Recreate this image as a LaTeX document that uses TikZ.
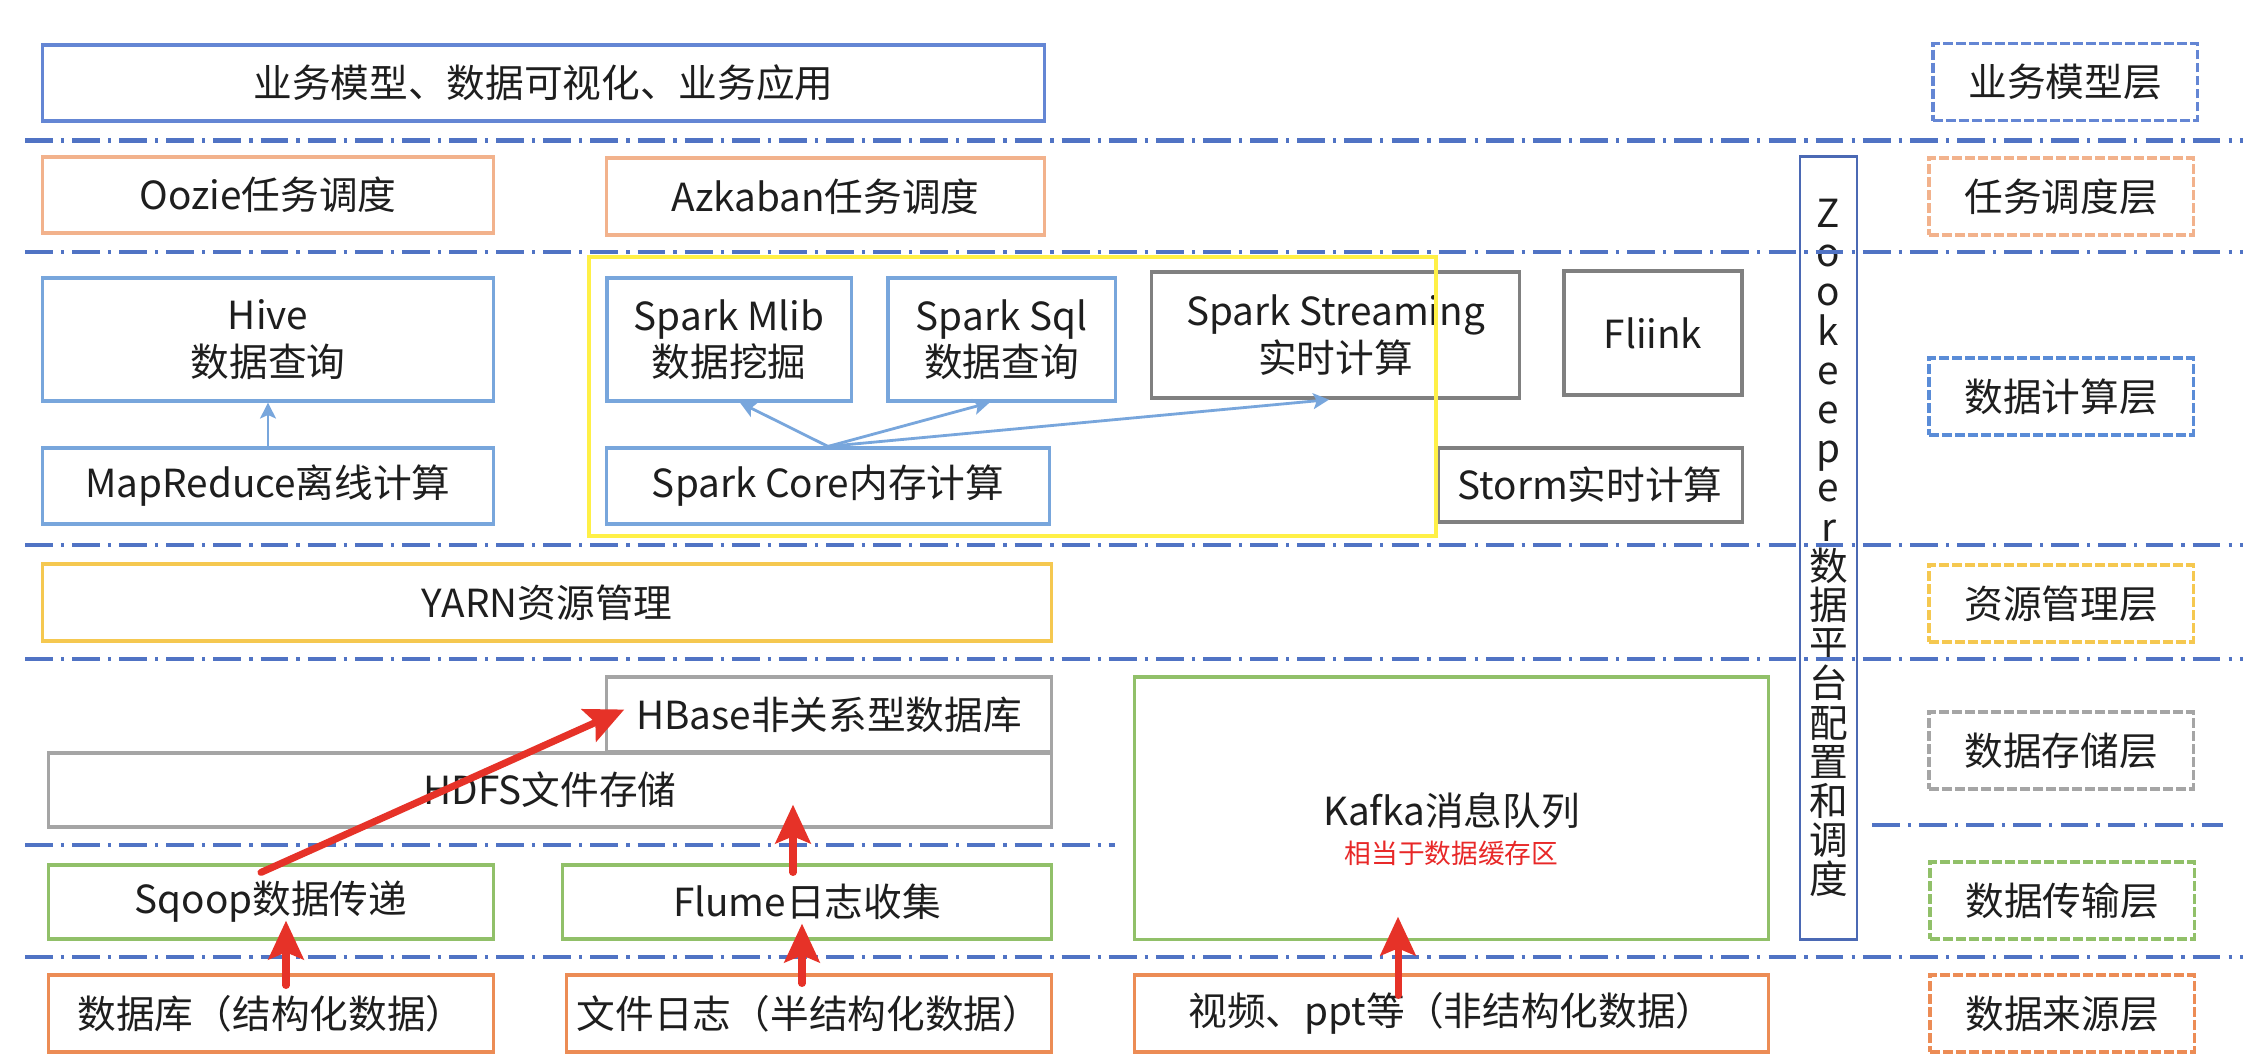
\documentclass[tikz,border=0pt]{standalone}
\usepackage{fontspec}
\setmainfont{Noto Sans CJK SC}
\usetikzlibrary{arrows.meta,calc}

\definecolor{txt}{RGB}{30,30,30}
\definecolor{topblue}{RGB}{100,134,212}
\definecolor{sky}{RGB}{120,166,220}
\definecolor{skydark}{RGB}{90,140,215}
\definecolor{peach}{RGB}{242,178,140}
\definecolor{midgray}{RGB}{128,128,128}
\definecolor{storegray}{RGB}{165,165,165}
\definecolor{gold}{RGB}{245,200,80}
\definecolor{leaf}{RGB}{145,192,105}
\definecolor{srcorange}{RGB}{236,140,85}
\definecolor{sepblue}{RGB}{80,115,196}
\definecolor{zkblue}{RGB}{75,105,180}
\definecolor{frameyellow}{RGB}{255,240,70}
\definecolor{arrowred}{RGB}{230,50,40}
\definecolor{notered}{RGB}{232,40,40}

\begin{document}
\begin{tikzpicture}[x=0.01cm, y=-0.01cm,
    font=\fontsize{11}{13.2}\selectfont,
    box/.style={draw, line width=0.9pt, align=center, text=txt, inner sep=1pt},
    bluebox/.style={box, draw=topblue},
    peachbox/.style={box, draw=peach},
    skybox/.style={box, draw=sky},
    graybox/.style={box, draw=midgray},
    storebox/.style={box, draw=storegray},
    goldbox/.style={box, draw=gold},
    greenbox/.style={box, draw=leaf},
    sourcebox/.style={box, draw=srcorange},
    layer/.style={box, dash pattern=on 2.8pt off 0.9pt, minimum width=2.64cm, minimum height=0.77cm},
    sep/.style={draw=sepblue, line width=1.3pt, dash pattern=on 7.9pt off 2.3pt on 0.9pt off 2.3pt},
    bluearrow/.style={draw=sky, line width=0.8pt, -{Stealth[length=4.5pt,width=4.5pt,inset=1pt]}},
    redarrow/.style={draw=arrowred, line width=2pt, line cap=round, -{Stealth[length=11pt,width=10pt,inset=2pt]}}]

    \fill[white] (0,0) rectangle (2258,1062);
    \useasboundingbox (0,0) rectangle (2258,1062);

    % application layer
    \node[bluebox, minimum width=10.01cm, minimum height=0.76cm] (app) at (543.5,83) {业务模型、数据可视化、业务应用};

    % scheduling
    \node[peachbox, minimum width=4.50cm, minimum height=0.76cm] (oozie) at (268,195) {Oozie任务调度};
    \node[peachbox, minimum width=4.37cm, minimum height=0.77cm] (azkaban) at (825.5,196.5) {Azkaban任务调度};

    % computing
    \node[skybox, minimum width=4.50cm, minimum height=1.23cm] (hive) at (268,339.5) {Hive\\数据查询};
    \node[skybox, minimum width=4.50cm, minimum height=0.76cm] (mapred) at (268,486) {MapReduce离线计算};
    \node[skybox, minimum width=2.44cm, minimum height=1.23cm] (mlib) at (729,339.5) {Spark Mlib\\数据挖掘};
    \node[skybox, minimum width=2.27cm, minimum height=1.23cm] (sql) at (1001.5,339.5) {Spark Sql\\数据查询};
    \node[graybox, minimum width=3.67cm, minimum height=1.26cm] (streaming) at (1335.5,335) {Spark Streaming\\实时计算};
    \node[graybox, minimum width=1.78cm, minimum height=1.24cm] (fliink) at (1653,333) {Fliink};
    \node[skybox, minimum width=4.42cm, minimum height=0.76cm] (core) at (828,486) {Spark Core内存计算};
    \node[graybox, minimum width=3.04cm, minimum height=0.74cm] (storm) at (1590,485) {Storm实时计算};

    % resources
    \node[goldbox, minimum width=10.08cm, minimum height=0.77cm] (yarn) at (547,602.5) {YARN资源管理};

    % storage
    \node[storebox, minimum width=4.44cm, minimum height=0.75cm] (hbase) at (829,714.5) {HBase非关系型数据库};
    \node[storebox, minimum width=10.02cm, minimum height=0.74cm] (hdfs) at (550,790) {HDFS文件存储};
    \node[greenbox, minimum width=6.33cm, minimum height=2.62cm] (kafka) at (1451.5,808) {};
    \node[text=txt] (kafkatext) at (1451.5,811) {Kafka消息队列};
    \node[text=notered, font=\fontsize{7.6}{9}\selectfont] (kafkanote) at (1451.5,853) {相当于数据缓存区};

    % transport
    \node[greenbox, minimum width=4.44cm, minimum height=0.74cm] (sqoop) at (271,902) {Sqoop数据传递};
    \node[greenbox, minimum width=4.88cm, minimum height=0.74cm] (flume) at (807,902) {Flume日志收集};

    % sources
    \node[sourcebox, minimum width=4.44cm, minimum height=0.77cm] (db) at (271,1013.5) {数据库（结构化数据）};
    \node[sourcebox, minimum width=4.84cm, minimum height=0.77cm] (filelog) at (809,1013.5) {文件日志（半结构化数据）};
    \node[sourcebox, minimum width=6.33cm, minimum height=0.77cm] (video) at (1451.5,1013.5) {视频、ppt等（非结构化数据）};

    % zookeeper
    \node[draw=zkblue, line width=0.8pt, minimum width=0.57cm, minimum height=7.82cm, inner sep=0pt,
        align=center, text=txt, font=\fontsize{11}{11.15}\selectfont] (zk) at (1828.5,548)
        {Z\\o\\o\\k\\e\\e\\p\\e\\r\\数\\据\\平\\台\\配\\置\\和\\调\\度};

    % layer labels
    \node[layer, draw=topblue] (lay1) at (2065,82) {业务模型层};
    \node[layer, draw=peach] (lay2) at (2061,196.5) {任务调度层};
    \node[layer, draw=skydark] (lay3) at (2061,396.5) {数据计算层};
    \node[layer, draw=gold] (lay4) at (2061,603.5) {资源管理层};
    \node[layer, draw=storegray] (lay5) at (2061,750.5) {数据存储层};
    \node[layer, draw=leaf] (lay6) at (2062,900.5) {数据传输层};
    \node[layer, draw=srcorange] (lay7) at (2062,1013.5) {数据来源层};

    % separators
    \draw[sep] (25,140.5) -- (2243,140.5);
    \draw[sep] (25,252) -- (2243,252);
    \draw[sep] (25,545) -- (2243,545);
    \draw[sep] (25,659) -- (2243,659);
    \draw[sep] (25,845) -- (1115,845);
    \draw[sep] (1872,825) -- (2223,825);
    \draw[sep] (25,957) -- (2243,957);

    % spark frame
    \draw[draw=frameyellow, line width=1.4pt] (589,257) rectangle (1436,536);

    \draw[bluearrow] (mapred) -- (hive);
    \draw[bluearrow] (core.north) -- ($(mlib.south)+(11,0)$);
    \draw[bluearrow] (core.north) -- ($(sql.south)+(-12,0)$);
    \draw[bluearrow] (core.north) -- ($(streaming.south)+(-6.5,0)$);

    \draw[redarrow] ($(sqoop.north)+(-10,9)$) -- ($(hbase.west)+(19,-5)$);
    \draw[redarrow] ($(flume.north)+(-14,9)$) -- ($(flume.north |- hdfs.south)+(-14,-24)$);
    \draw[redarrow] ($(db.north)+(15,12)$) -- ($(db.north |- sqoop.south)+(15,-20)$);
    \draw[redarrow] ($(filelog.north)+(-7,10)$) -- ($(filelog.north |- flume.south)+(-7,-17)$);
    \draw[redarrow] ($(video.north)+(-53.5,22)$) -- ($(video.north |- kafka.south)+(-53.5,-24)$);
\end{tikzpicture}
\end{document}
